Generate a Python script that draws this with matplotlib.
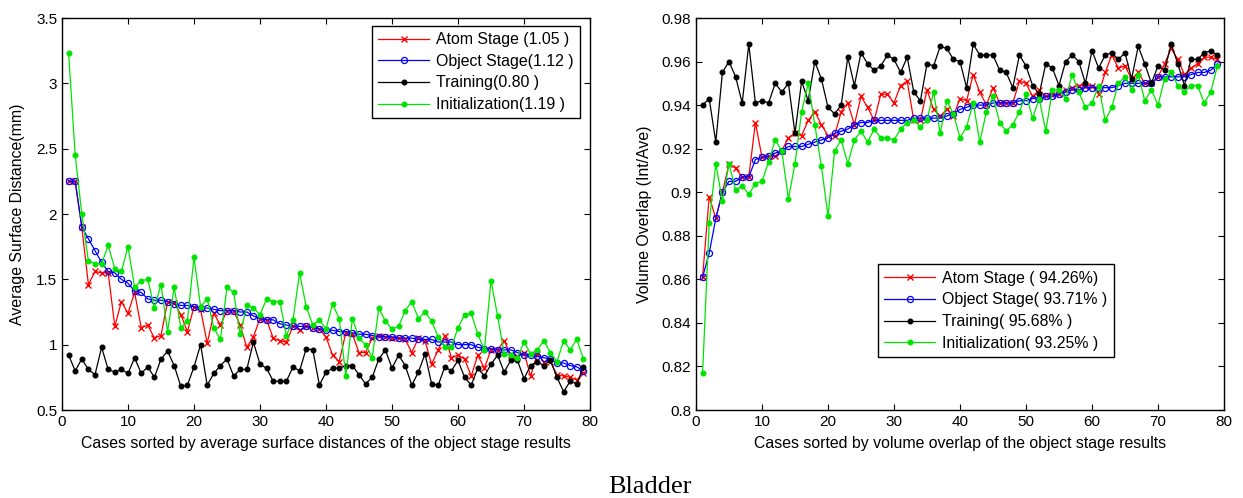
import numpy as np
import matplotlib
matplotlib.use("Agg")
import matplotlib.pyplot as plt

matplotlib.rcParams.update({"font.family": "sans-serif",
                            "font.sans-serif": ["Liberation Sans", "DejaVu Sans"],
                            "font.size": 11})

cases = np.arange(1, 80)

# left panel: average surface distance (mm)
asd_atom = [2.25, 2.25, 1.90, 1.46, 1.56, 1.55, 1.55, 1.14, 1.33, 1.24, 1.40, 1.13, 1.15, 1.05, 1.07, 1.33,
            1.32, 1.23, 1.10, 1.29, 1.27, 1.01, 1.24, 1.15, 1.26, 1.26, 1.15, 0.98, 1.06, 1.20, 1.19, 1.05,
            1.03, 1.02, 1.14, 1.11, 1.14, 1.13, 1.12, 1.06, 0.92, 0.87, 1.09, 1.08, 0.94, 0.94, 1.05, 1.07,
            1.06, 1.05, 1.05, 1.04, 0.94, 1.05, 1.03, 0.85, 0.96, 1.07, 0.90, 0.92, 0.89, 0.76, 0.92, 0.82,
            0.96, 0.96, 1.03, 0.92, 0.91, 0.94, 0.76, 0.93, 0.87, 0.87, 0.77, 0.76, 0.75, 0.73, 0.78]
asd_obj = [2.25, 2.25, 1.90, 1.81, 1.72, 1.63, 1.56, 1.55, 1.50, 1.47, 1.41, 1.40, 1.35, 1.34, 1.34, 1.33,
           1.31, 1.30, 1.30, 1.29, 1.28, 1.28, 1.27, 1.26, 1.26, 1.26, 1.25, 1.25, 1.22, 1.20, 1.19, 1.19,
           1.16, 1.15, 1.14, 1.14, 1.14, 1.13, 1.12, 1.11, 1.11, 1.10, 1.10, 1.09, 1.08, 1.08, 1.07, 1.06,
           1.06, 1.06, 1.05, 1.05, 1.05, 1.04, 1.04, 1.04, 1.02, 1.02, 1.02, 1.00, 1.00, 1.00, 0.98, 0.97,
           0.97, 0.96, 0.96, 0.96, 0.94, 0.92, 0.92, 0.91, 0.90, 0.89, 0.86, 0.86, 0.84, 0.83, 0.80]
asd_train = [0.92, 0.80, 0.89, 0.81, 0.77, 0.98, 0.81, 0.79, 0.81, 0.78, 0.90, 0.78, 0.83, 0.75, 0.89, 0.95,
             0.84, 0.68, 0.69, 0.83, 1.00, 0.69, 0.78, 0.84, 0.89, 0.76, 0.81, 0.81, 1.02, 0.85, 0.82, 0.72,
             0.72, 0.72, 0.83, 0.80, 0.97, 0.96, 0.69, 0.79, 0.82, 0.82, 0.84, 0.84, 0.77, 0.70, 0.75, 0.89,
             0.96, 0.82, 0.92, 0.84, 0.69, 0.79, 0.93, 0.70, 0.69, 0.83, 0.80, 0.88, 0.75, 0.69, 0.82, 0.76,
             0.85, 0.92, 0.79, 0.88, 0.88, 0.74, 0.84, 0.87, 0.84, 0.88, 0.75, 0.64, 0.72, 0.70, 0.83]
asd_init = [3.23, 2.45, 2.00, 1.64, 1.62, 1.62, 1.76, 1.58, 1.56, 1.75, 1.44, 1.49, 1.50, 1.28, 1.46, 1.10,
            1.44, 1.13, 1.18, 1.67, 1.29, 1.35, 1.13, 1.04, 1.44, 1.40, 1.08, 1.30, 1.28, 1.23, 1.35, 1.33,
            1.33, 1.07, 1.19, 1.55, 1.29, 1.15, 1.19, 1.12, 1.31, 1.20, 0.76, 1.20, 1.05, 1.00, 0.90, 1.28,
            1.18, 1.12, 1.14, 1.26, 1.33, 1.20, 1.25, 1.18, 1.06, 0.98, 0.98, 1.13, 1.23, 1.24, 1.08, 0.96,
            1.49, 1.22, 0.93, 0.92, 0.90, 1.02, 0.93, 0.96, 1.03, 0.94, 0.87, 1.03, 0.96, 1.04, 0.89]

# right panel: volume overlap (Int/Ave)
vo_atom = [0.861, 0.898, 0.888, 0.900, 0.913, 0.911, 0.907, 0.907, 0.932, 0.916, 0.9165, 0.9165, 0.919, 0.925,
           0.927, 0.926, 0.933, 0.937, 0.931, 0.926, 0.926, 0.937, 0.941, 0.931, 0.944, 0.939, 0.933, 0.945,
           0.945, 0.941, 0.949, 0.951, 0.933, 0.933, 0.947, 0.938, 0.935, 0.938, 0.935, 0.943, 0.942, 0.954,
           0.946, 0.940, 0.948, 0.941, 0.941, 0.941, 0.951, 0.950, 0.944, 0.947, 0.944, 0.9445, 0.945, 0.947,
           0.948, 0.949, 0.949, 0.949, 0.945, 0.955, 0.963, 0.957, 0.958, 0.952, 0.955, 0.950, 0.950, 0.953,
           0.959, 0.966, 0.961, 0.954, 0.957, 0.959, 0.962, 0.962, 0.961]
vo_obj = [0.861, 0.872, 0.888, 0.900, 0.905, 0.905, 0.907, 0.907, 0.915, 0.916, 0.9165, 0.918, 0.919, 0.921,
          0.921, 0.921, 0.922, 0.923, 0.924, 0.925, 0.927, 0.928, 0.929, 0.931, 0.932, 0.932, 0.933, 0.933,
          0.933, 0.933, 0.933, 0.933, 0.934, 0.934, 0.934, 0.934, 0.934, 0.935, 0.936, 0.938, 0.939, 0.940,
          0.940, 0.940, 0.941, 0.941, 0.941, 0.941, 0.942, 0.942, 0.943, 0.943, 0.944, 0.944, 0.945, 0.946,
          0.947, 0.947, 0.948, 0.948, 0.948, 0.948, 0.948, 0.949, 0.950, 0.950, 0.950, 0.950, 0.950, 0.953,
          0.953, 0.953, 0.953, 0.953, 0.954, 0.955, 0.955, 0.956, 0.959]
vo_train = [0.940, 0.943, 0.923, 0.955, 0.960, 0.953, 0.941, 0.968, 0.941, 0.942, 0.941, 0.950, 0.946, 0.950,
            0.927, 0.951, 0.942, 0.960, 0.952, 0.939, 0.936, 0.940, 0.962, 0.949, 0.964, 0.959, 0.956, 0.958,
            0.963, 0.961, 0.955, 0.962, 0.946, 0.942, 0.959, 0.958, 0.967, 0.966, 0.961, 0.960, 0.948, 0.968,
            0.963, 0.963, 0.963, 0.956, 0.955, 0.948, 0.963, 0.958, 0.949, 0.945, 0.959, 0.957, 0.949, 0.960,
            0.963, 0.960, 0.950, 0.965, 0.957, 0.963, 0.964, 0.961, 0.964, 0.952, 0.967, 0.959, 0.950, 0.958,
            0.956, 0.968, 0.959, 0.949, 0.961, 0.961, 0.964, 0.965, 0.963]
vo_init = [0.817, 0.886, 0.913, 0.896, 0.913, 0.901, 0.903, 0.899, 0.904, 0.905, 0.914, 0.924, 0.919, 0.897,
           0.913, 0.937, 0.950, 0.931, 0.912, 0.889, 0.919, 0.924, 0.913, 0.924, 0.928, 0.923, 0.929, 0.925,
           0.925, 0.924, 0.929, 0.932, 0.933, 0.930, 0.933, 0.946, 0.927, 0.942, 0.936, 0.925, 0.930, 0.941,
           0.923, 0.937, 0.944, 0.932, 0.928, 0.931, 0.937, 0.945, 0.934, 0.943, 0.928, 0.947, 0.947, 0.943,
           0.954, 0.946, 0.939, 0.941, 0.949, 0.933, 0.939, 0.950, 0.953, 0.947, 0.954, 0.942, 0.947, 0.940,
           0.952, 0.955, 0.949, 0.946, 0.949, 0.949, 0.941, 0.946, 0.958]

lab_l = ["Atom Stage (1.05 )", "Object Stage(1.12 )", "Training(0.80 )", "Initialization(1.19 )"]
lab_r = ["Atom Stage ( 94.26%)", "Object Stage( 93.71% )", "Training( 95.68% )", "Initialization( 93.25% )"]

GRN = "#00e400"

def draw(ax, series, labels):
    a, o, t, i = series
    ax.plot(cases, a, "-x", color="red", lw=0.9, ms=4.5, mew=1.0, label=labels[0])
    ax.plot(cases, o, "-o", color="blue", lw=0.9, ms=4.4, mfc="none", mew=0.9, label=labels[1])
    ax.plot(cases, t, "-o", color="black", lw=0.9, ms=3.3, label=labels[2])
    ax.plot(cases, i, "-o", color=GRN, lw=0.9, ms=3.3, label=labels[3])
    ax.set_xlim(0, 80); ax.set_xticks(range(0, 81, 10))
    ax.tick_params(direction="in", top=True, right=True, length=4, labelsize=11, pad=3.5)
    for s in ax.spines.values(): s.set_linewidth(1.0)

def legend(ax, **kw):
    lg = ax.legend(borderaxespad=0, numpoints=1, handlelength=3.2, fontsize=11.4, fancybox=False,
                   edgecolor="black", framealpha=1, labelspacing=0.42, borderpad=0.4, handletextpad=0.45, **kw)
    lg.get_frame().set_linewidth(1.0)

fig = plt.figure(figsize=(12.43, 4.98), dpi=100)
axl = fig.add_axes([62/1243, 88/498, 528/1243, 392/498])
axr = fig.add_axes([696/1243, 88/498, 528/1243, 392/498])

draw(axl, [asd_atom, asd_obj, asd_train, asd_init], lab_l)
axl.set_ylim(0.5, 3.5); axl.set_yticks(np.arange(0.5, 3.51, 0.5))
axl.set_yticklabels(["0.5", "1", "1.5", "2", "2.5", "3", "3.5"])
axl.set_xlabel("Cases sorted by average surface distances of the object stage results", fontsize=11.4, labelpad=5)
axl.set_ylabel("Average Surface Distance(mm)", fontsize=11.4, labelpad=8)
legend(axl, loc="upper right", bbox_to_anchor=(0.981, 0.98))

draw(axr, [vo_atom, vo_obj, vo_train, vo_init], lab_r)
axr.set_ylim(0.8, 0.98); axr.set_yticks(np.arange(0.8, 0.981, 0.02))
axr.set_yticklabels(["0.8", "0.82", "0.84", "0.86", "0.88", "0.9", "0.92", "0.94", "0.96", "0.98"])
axr.set_xlabel("Cases sorted by volume overlap of the object stage results", fontsize=11.4, labelpad=5)
axr.set_ylabel("Volume Overlap (Int/Ave)", fontsize=11.4, labelpad=7)
legend(axr, loc="lower left", bbox_to_anchor=(0.345, 0.135))

fig.text(650/1243, 5/498, "Bladder", ha="center", va="baseline", family="Liberation Serif", fontsize=19)

fig.savefig("out.png", dpi=100)
